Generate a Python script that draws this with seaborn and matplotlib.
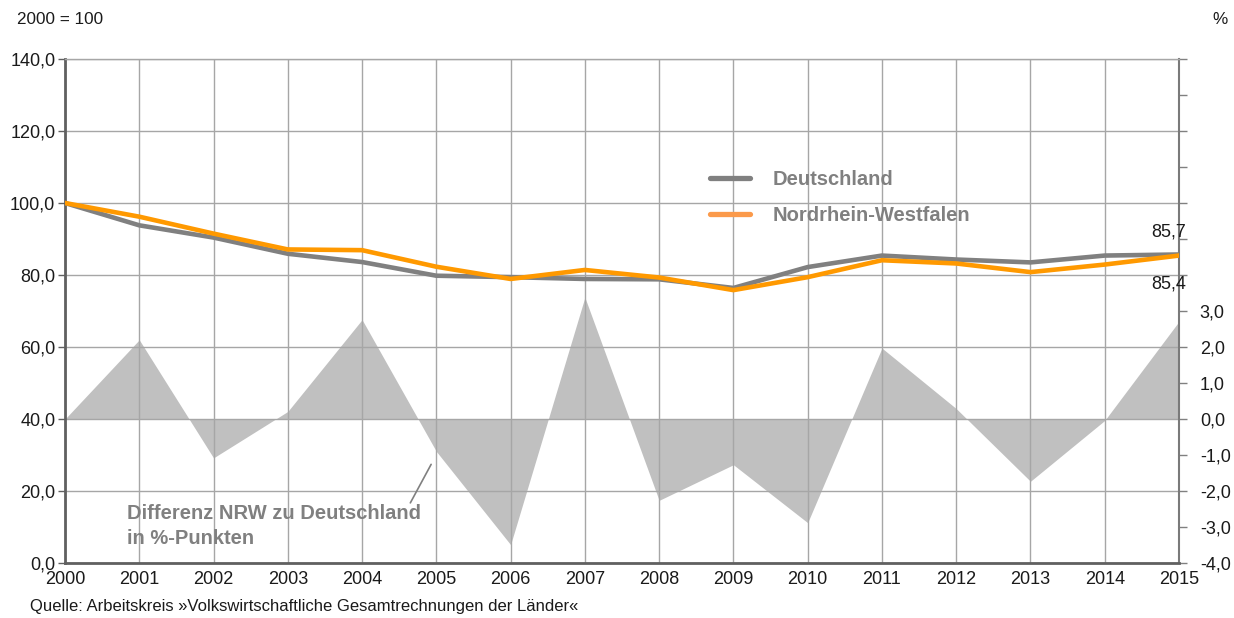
import numpy as np
import pandas as pd
import matplotlib
matplotlib.use("Agg")
import matplotlib.pyplot as plt
from matplotlib.ticker import FuncFormatter, FixedLocator
import seaborn as sns

# data
years = list(range(2000, 2016))
deutschland = [100.0, 93.8, 90.4, 85.9, 83.6, 79.8, 79.4, 78.9, 78.8, 76.4,
               82.2, 85.4, 84.3, 83.5, 85.4, 85.7]
nrw = [100.0, 96.2, 91.5, 87.1, 86.9, 82.3, 78.9, 81.4, 79.3, 75.8,
       79.4, 84.1, 83.2, 80.8, 82.9, 85.4]
differenz = [0.0, 2.20, -1.08, 0.21, 2.76, -0.90, -3.49, 3.38, -2.26, -1.27,
             -2.88, 1.97, 0.29, -1.73, -0.04, 2.71]
regions = ["Deutschland", "Nordrhein-Westfalen"]
colors = ["#808080", "#ff9900"]

df = pd.DataFrame({
    "Jahr": years * 2,
    "Index": deutschland + nrw,
    "Region": [regions[0]] * len(years) + [regions[1]] * len(years),
})

sns.set_theme(style="white")
plt.rcParams["font.family"] = ["Liberation Sans", "DejaVu Sans"]

fig = plt.figure(figsize=(12.34, 6.18), dpi=100)
ax = fig.add_axes([65 / 1234, 1 - 563 / 618, 1114 / 1234, 504 / 618])
ax2 = ax.twinx()

# difference area on the right axis, behind the index lines
ax2.fill_between(years, differenz, 0, color="#c0c0c0", linewidth=0, zorder=1)
ax2.set_ylim(-4, 10)
ax2.yaxis.set_major_locator(FixedLocator(np.arange(-4, 11, 1)))
ax2.yaxis.set_major_formatter(FuncFormatter(
    lambda v, p: f"{v:.1f}".replace(".", ",") if v <= 3 else ""))
ax2.tick_params(axis="y", direction="out", length=6, width=1, color="#808080",
                labelsize=13, pad=9, labelcolor="#1a1a1a")
ax2.grid(False)

ax.set_zorder(ax2.get_zorder() + 1)
ax.patch.set_visible(False)

sns.lineplot(data=df, x="Jahr", y="Index", hue="Region", hue_order=regions,
             palette=colors, linewidth=3.3, ax=ax, zorder=5)

ax.set_xlim(2000, 2015)
ax.set_ylim(0, 140)
ax.set_xticks(years)
ax.set_yticks(np.arange(0, 141, 20))
ax.yaxis.set_major_formatter(FuncFormatter(lambda v, p: f"{v:.1f}".replace(".", ",")))
ax.set_xlabel("")
ax.set_ylabel("")
ax.grid(True, color="#a6a6a6", linewidth=1)
ax.tick_params(axis="both", direction="out", length=5, width=1, color="#606060",
               labelsize=13, labelcolor="#1a1a1a", pad=2)
ax.tick_params(axis="x", pad=1)

for side in ["left", "bottom"]:
    ax.spines[side].set_color("#606060")
    ax.spines[side].set_linewidth(2)
ax.spines["top"].set_color("#a6a6a6")
ax.spines["top"].set_linewidth(1)
ax.spines["right"].set_color("#7a7a7a")
ax.spines["right"].set_linewidth(1.5)
for side in ax2.spines:
    ax2.spines[side].set_visible(False)

# legend
leg = ax.legend(loc="upper left", bbox_to_anchor=(0.579, 0.780), frameon=False,
                fontsize=14.5, handlelength=2.0, handletextpad=1.1, labelspacing=0.85,
                borderpad=0, borderaxespad=0)
for line, col in zip(leg.get_lines(), ["#808080", "#fb9a4b"]):
    line.set_linewidth(3.8)
    line.set_color(col)
for t in leg.get_texts():
    t.set_color("#808080")
    t.set_fontweight("bold")

# end value labels
ax.annotate(f"{deutschland[-1]:.1f}".replace(".", ","), (years[-1], deutschland[-1]),
            xytext=(5, 10), textcoords="offset points", ha="right", va="bottom",
            fontsize=13, color="#1a1a1a")
ax.annotate(f"{nrw[-1]:.1f}".replace(".", ","), (years[-1], nrw[-1]),
            xytext=(5, -14), textcoords="offset points", ha="right", va="top",
            fontsize=13, color="#1a1a1a")

# area annotation
ax.text(2000.84, 10.4, "Differenz NRW zu Deutschland\nin %-Punkten", fontsize=14.5,
        fontweight="bold", color="#808080", va="center", ha="left", linespacing=1.4)
ax.plot([2004.65, 2004.93], [16.7, 27.4], color="#808080", linewidth=1.2, zorder=6)

fig.text(17 / 1234, 1 - 19 / 618, "2000 = 100", fontsize=12.3, color="#1a1a1a", va="center")
fig.text(1212 / 1234, 1 - 20 / 618, "%", fontsize=12.3, color="#1a1a1a", va="center")
fig.text(30 / 1234, 1 - 607 / 618,
         "Quelle: Arbeitskreis \u00bbVolkswirtschaftliche Gesamtrechnungen der L\u00e4nder\u00ab",
         fontsize=12, color="#1a1a1a", va="center")

fig.savefig("out.png", dpi=100)
